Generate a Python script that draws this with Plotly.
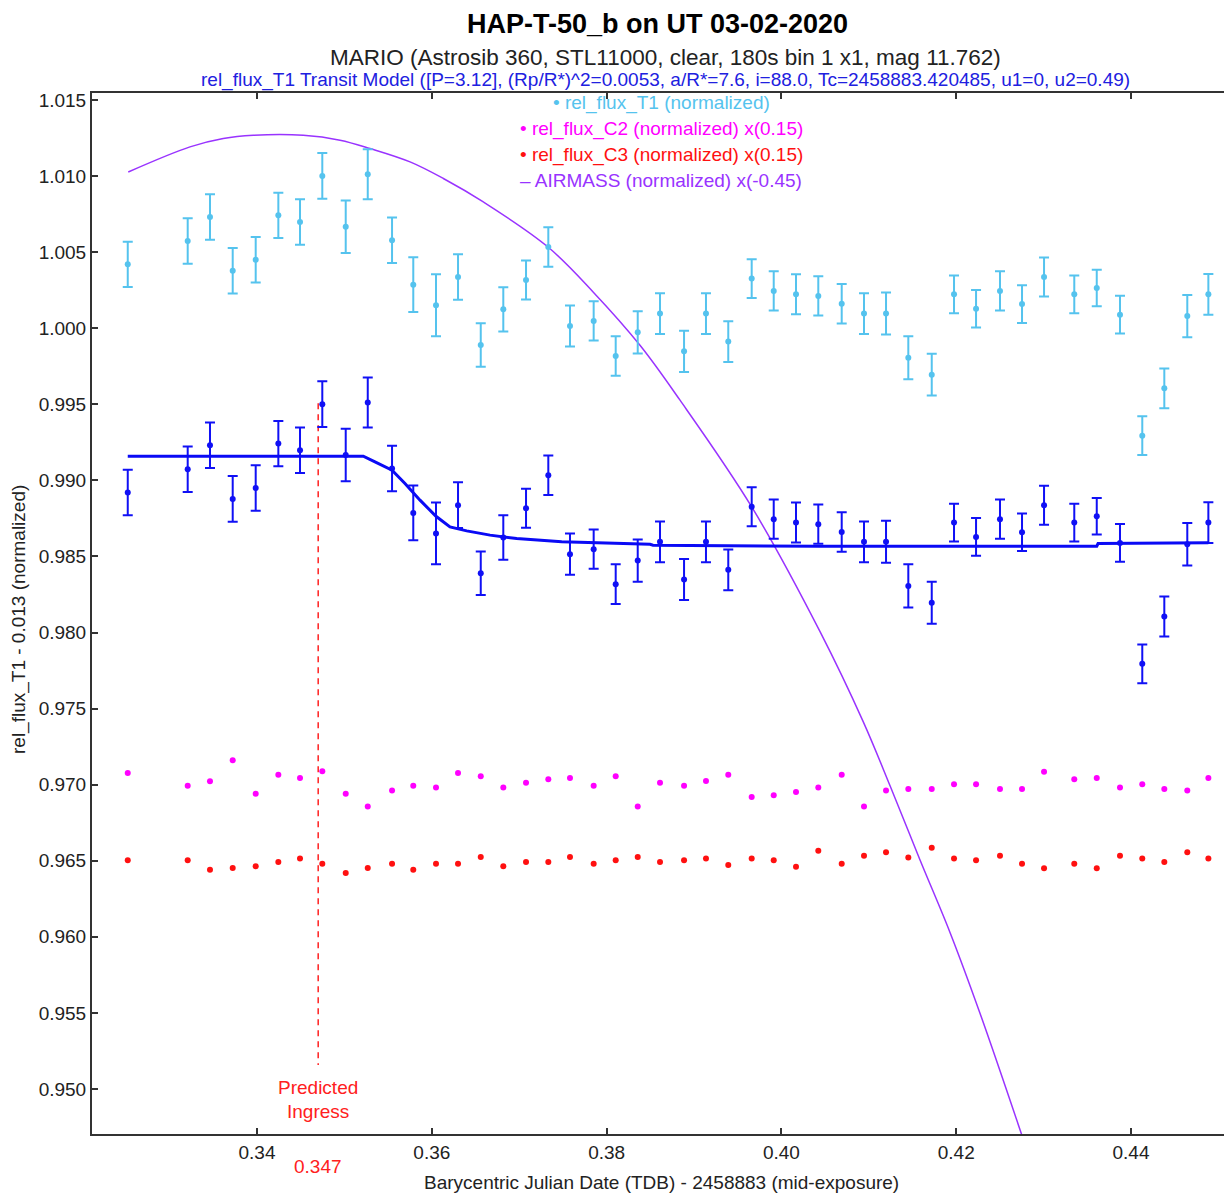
import plotly.graph_objects as go

# ---------------- data ----------------
bjd = [0.32521, 0.33207, 0.33462, 0.33722, 0.33985, 0.34244, 0.34492, 0.34747,
       0.35015, 0.35267, 0.35545, 0.35788, 0.36048, 0.36300, 0.36560, 0.36818,
       0.37078, 0.37333, 0.37581, 0.37852, 0.38104, 0.38356, 0.38611, 0.38886,
       0.39137, 0.39392, 0.39660, 0.39912, 0.40167, 0.40422, 0.40690, 0.40945,
       0.41197, 0.41452, 0.41720, 0.41975, 0.42227, 0.42501, 0.42753, 0.43005,
       0.43351, 0.43608, 0.43874, 0.44129, 0.44381, 0.44644, 0.44885]

t1_shifted = [0.98920, 0.99073, 0.99231, 0.98878, 0.98950, 0.99242, 0.99198, 0.99501,
              0.99167, 0.99512, 0.99078, 0.98786, 0.98651, 0.98837, 0.98390, 0.98624,
              0.98817, 0.99034, 0.98515, 0.98548, 0.98318, 0.98473, 0.98596, 0.98348,
              0.98596, 0.98412, 0.98826, 0.98745, 0.98723, 0.98712, 0.98661, 0.98596,
              0.98596, 0.98306, 0.98195, 0.98723, 0.98628, 0.98745, 0.98659, 0.98837,
              0.98723, 0.98764, 0.98589, 0.97794, 0.98105, 0.98580, 0.98723]

t1_err = [0.00149, 0.00150, 0.00149, 0.00150, 0.00149, 0.00149, 0.00150, 0.00150,
          0.00172, 0.00164, 0.00150, 0.00180, 0.00203, 0.00150, 0.00143, 0.00146,
          0.00128, 0.00130, 0.00135, 0.00129, 0.00130, 0.00139, 0.00134, 0.00135,
          0.00134, 0.00134, 0.00128, 0.00129, 0.00131, 0.00129, 0.00130, 0.00134,
          0.00138, 0.00142, 0.00138, 0.00124, 0.00124, 0.00129, 0.00124, 0.00128,
          0.00124, 0.00120, 0.00124, 0.00128, 0.00131, 0.00139, 0.00134]

T1_UNSHIFTED_OFFSET = 0.015

c2_scaled = [0.97077, 0.96993, 0.97022, 0.97160, 0.96941, 0.97066, 0.97044, 0.97088,
             0.96941, 0.96857, 0.96961, 0.96993, 0.96982, 0.97077, 0.97055, 0.96982,
             0.97013, 0.97035, 0.97044, 0.96993, 0.97055, 0.96857, 0.97013, 0.96993,
             0.97024, 0.97066, 0.96919, 0.96930, 0.96952, 0.96982, 0.97066, 0.96857,
             0.96961, 0.96972, 0.96972, 0.97002, 0.97002, 0.96972, 0.96972, 0.97085,
             0.97035, 0.97044, 0.96982, 0.97002, 0.96972, 0.96961, 0.97044]

c3_scaled = [0.96503, 0.96503, 0.96441, 0.96452, 0.96463, 0.96492, 0.96514, 0.96481,
             0.96420, 0.96452, 0.96481, 0.96441, 0.96481, 0.96481, 0.96525, 0.96463,
             0.96492, 0.96492, 0.96525, 0.96481, 0.96503, 0.96525, 0.96492, 0.96503,
             0.96514, 0.96472, 0.96514, 0.96503, 0.96461, 0.96566, 0.96481, 0.96533,
             0.96555, 0.96522, 0.96586, 0.96514, 0.96503, 0.96533, 0.96481, 0.96450,
             0.96481, 0.96450, 0.96533, 0.96514, 0.96492, 0.96555, 0.96514]

model_x = [0.32521, 0.35216, 0.35350, 0.35545, 0.35693, 0.35865, 0.36048, 0.36208,
           0.36399, 0.36666, 0.36971, 0.37215, 0.37486, 0.38497, 0.38531, 0.40442,
           0.43608, 0.43623, 0.44885]
model_y = [0.99159, 0.99159, 0.99121, 0.99067, 0.98979, 0.98870, 0.98764, 0.98694,
           0.98668, 0.98640, 0.98618, 0.98607, 0.98596, 0.98580, 0.98574, 0.98567,
           0.98567, 0.98585, 0.98590]

airmass_x = [0.32527, 0.33233, 0.33614, 0.33958, 0.34530, 0.34950, 0.35293, 0.35751,
             0.36132, 0.36589, 0.37333, 0.37848, 0.38382, 0.38840, 0.39660, 0.40442,
             0.40937, 0.41243, 0.41586, 0.41929, 0.42272, 0.42749]
airmass_y = [1.01027, 1.01192, 1.01247, 1.01268, 1.01268, 1.01236, 1.01181, 1.01093,
             1.00984, 1.00830, 1.00532, 1.00237, 0.99888, 0.99527, 0.98826, 0.98006,
             0.97413, 0.96993, 0.96505, 0.96029, 0.95498, 0.94700]

predicted_ingress = 0.347
ingress_line_y = [0.99507, 0.95157]

x_ticks = [0.34, 0.36, 0.38, 0.40, 0.42, 0.44]
x_tick_labels = ["0.34", "0.36", "0.38", "0.40", "0.42", "0.44"]
y_ticks = [0.950, 0.955, 0.960, 0.965, 0.970, 0.975, 0.980, 0.985, 0.990,
           0.995, 1.000, 1.005, 1.010, 1.015]
y_tick_labels = ["%.3f" % v for v in y_ticks]

legend_entries = [
    ("\u2022 rel_flux_T1 (normalized)", "#55C3EE"),
    ("\u2022 rel_flux_C2 (normalized) x(0.15)", "#FF00FF"),
    ("\u2022 rel_flux_C3 (normalized) x(0.15)", "#FF1010"),
    ("\u2013 AIRMASS (normalized) x(-0.45)", "#9933FF"),
]

# ---------------- styling ----------------
W, H = 1224, 1194
L, R, T, B = 92, 0, 93, 60
PLOT_H = H - T - B
PLOT_W = W - L - R
FONT = "Liberation Sans, Arial, sans-serif"

def py(p):
    return (H - B - p) / PLOT_H

def px(p):
    return (p - L) / PLOT_W

LIGHT = "#55C3EE"
DARK = "#1010F5"

fig = go.Figure()

t1_unshifted = [v + T1_UNSHIFTED_OFFSET for v in t1_shifted]

fig.add_trace(go.Scatter(
    x=airmass_x, y=airmass_y, mode="lines",
    line=dict(color="#9933FF", width=1.5, shape="spline", smoothing=1.0),
    showlegend=False, hoverinfo="skip"))

fig.add_trace(go.Scatter(
    x=[predicted_ingress, predicted_ingress], y=ingress_line_y, mode="lines",
    line=dict(color="#FF2020", width=1.5, dash="6px,5px"),
    showlegend=False, hoverinfo="skip"))

fig.add_trace(go.Scatter(
    x=bjd, y=c2_scaled, mode="markers",
    marker=dict(color="#FF00FF", size=6),
    showlegend=False))
fig.add_trace(go.Scatter(
    x=bjd, y=c3_scaled, mode="markers",
    marker=dict(color="#FF1010", size=6),
    showlegend=False))

fig.add_trace(go.Scatter(
    x=bjd, y=t1_unshifted, mode="markers",
    marker=dict(color=LIGHT, size=6),
    error_y=dict(type="data", array=t1_err, color=LIGHT, thickness=2, width=5),
    showlegend=False))

fig.add_trace(go.Scatter(
    x=bjd, y=t1_shifted, mode="markers",
    marker=dict(color=DARK, size=6),
    error_y=dict(type="data", array=t1_err, color=DARK, thickness=2, width=5),
    showlegend=False))

fig.add_trace(go.Scatter(
    x=model_x, y=model_y, mode="lines",
    line=dict(color="#0A0AF5", width=3),
    showlegend=False, hoverinfo="skip"))

annotations = [
    dict(text="<b>HAP-T-50_b on UT 03-02-2020</b>", x=px(657), y=py(24), xref="paper", yref="paper",
         showarrow=False, font=dict(family=FONT, size=27, color="#000000"), xanchor="center", yanchor="middle"),
    dict(text="MARIO (Astrosib 360, STL11000, clear, 180s bin 1 x1, mag 11.762)", x=px(665), y=py(57),
         xref="paper", yref="paper", showarrow=False,
         font=dict(family=FONT, size=22.5, color="#222222"), xanchor="center", yanchor="middle"),
    dict(text="rel_flux_T1 Transit Model ([P=3.12], (Rp/R*)^2=0.0053, a/R*=7.6, i=88.0, Tc=2458883.420485, u1=0, u2=0.49)",
         x=px(665), y=py(80), xref="paper", yref="paper", showarrow=False,
         font=dict(family=FONT, size=19, color="#2020E0"), xanchor="center", yanchor="middle"),
    dict(text="Predicted", x=predicted_ingress, y=py(1087), xref="x", yref="paper", showarrow=False,
         font=dict(family=FONT, size=19, color="#FF2020"), xanchor="center", yanchor="middle"),
    dict(text="Ingress", x=predicted_ingress, y=py(1111), xref="x", yref="paper", showarrow=False,
         font=dict(family=FONT, size=19, color="#FF2020"), xanchor="center", yanchor="middle"),
    dict(text="0.347", x=predicted_ingress, y=py(1167), xref="x", yref="paper", showarrow=False,
         font=dict(family=FONT, size=19, color="#FF2020"), xanchor="center", yanchor="middle"),
    dict(text="Barycentric Julian Date (TDB) - 2458883 (mid-exposure)", x=px(661), y=py(1182),
         xref="paper", yref="paper", showarrow=False,
         font=dict(family=FONT, size=19, color="#222222"), xanchor="center", yanchor="middle"),
    dict(text="rel_flux_T1 - 0.013 (normalized)", x=px(19), y=py(620), xref="paper", yref="paper",
         showarrow=False, textangle=-90,
         font=dict(family=FONT, size=19, color="#222222"), xanchor="center", yanchor="middle"),
]
legend_rows = [103, 129, 155, 180]
for (txt, col), row in zip(legend_entries, legend_rows):
    annotations.append(dict(text=txt, x=px(661), y=py(row), xref="paper", yref="paper",
                            showarrow=False, font=dict(family=FONT, size=19, color=col),
                            xanchor="center", yanchor="middle"))

fig.update_layout(
    width=W, height=H,
    margin=dict(l=L, r=R, t=T, b=B),
    paper_bgcolor="white", plot_bgcolor="white",
    font=dict(family=FONT, size=19, color="#222222"),
    annotations=annotations,
    xaxis=dict(range=[0.32112, 0.45064], tickvals=x_ticks, ticktext=x_tick_labels,
               ticks="inside", ticklen=6, tickwidth=1.5, tickcolor="#333333",
               showline=True, linecolor="#333333", linewidth=2, mirror="ticks",
               showgrid=False, zeroline=False,
               tickfont=dict(family=FONT, size=19, color="#222222")),
    yaxis=dict(range=[0.94704, 1.01546], tickvals=y_ticks, ticktext=y_tick_labels,
               ticks="inside", ticklen=6, tickwidth=1.5, tickcolor="#333333",
               showline=True, linecolor="#333333", linewidth=2,
               showgrid=False, zeroline=False,
               tickfont=dict(family=FONT, size=19, color="#222222")),
)

fig.write_html("out.html", config={"displayModeBar": False},
               post_script="document.body.style.margin='0';document.body.style.overflow='hidden';")
